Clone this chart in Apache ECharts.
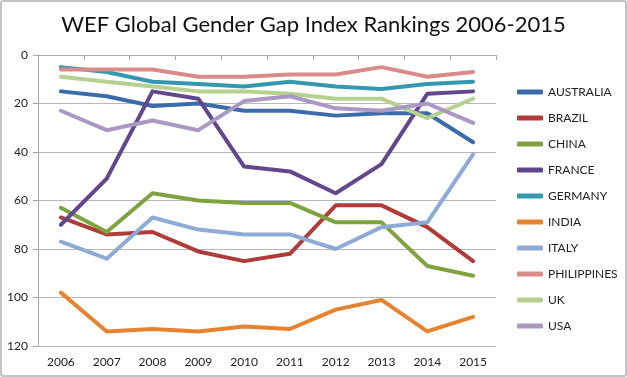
<!DOCTYPE html>
<html>
<head>
<meta charset="utf-8">
<script src="https://cdn.jsdelivr.net/npm/echarts@6/dist/echarts.min.js"></script>
<style>
  html, body { margin: 0; padding: 0; background: #fff; }
  #chart {
    width: 627px; height: 377px;
    box-sizing: border-box;
    border: 2px solid #c4c4c4;
    border-radius: 3px;
  }
</style>
</head>
<body>
<div id="chart"></div>
<script>
// rankings (lower = better)
var years = ['2006', '2007', '2008', '2009', '2010', '2011', '2012', '2013', '2014', '2015']
var australia = [15, 17, 21, 20, 23, 23, 25, 24, 24, 36]
var brazil = [67, 74, 73, 81, 85, 82, 62, 62, 71, 85]
var china = [63, 73, 57, 60, 61, 61, 69, 69, 87, 91]
var france = [70, 51, 15, 18, 46, 48, 57, 45, 16, 15]
var germany = [5, 7, 11, 12, 13, 11, 13, 14, 12, 11]
var india = [98, 114, 113, 114, 112, 113, 105, 101, 114, 108]
var italy = [77, 84, 67, 72, 74, 74, 80, 71, 69, 41]
var philippines = [6, 6, 6, 9, 9, 8, 8, 5, 9, 7]
var uk = [9, 11, 13, 15, 15, 16, 18, 18, 26, 18]
var usa = [23, 31, 27, 31, 19, 17, 22, 23, 20, 28]

var countries = [
  { name: 'AUSTRALIA', data: australia, color: '#3b6ca9' },
  { name: 'BRAZIL', data: brazil, color: '#b03b38' },
  { name: 'CHINA', data: china, color: '#7fa33e' },
  { name: 'FRANCE', data: france, color: '#61488c' },
  { name: 'GERMANY', data: germany, color: '#3498b0' },
  { name: 'INDIA', data: india, color: '#e5832f' },
  { name: 'ITALY', data: italy, color: '#8eabd6' },
  { name: 'PHILIPPINES', data: philippines, color: '#d98b89' },
  { name: 'UK', data: uk, color: '#b6d090' },
  { name: 'USA', data: usa, color: '#a898c3' }
]

var chart = echarts.init(document.getElementById('chart'))
chart.setOption({
  animation: false,
  title: {
    text: 'WEF Global Gender Gap Index Rankings 2006-2015',
    left: 'center',
    top: 7,
    textStyle: {
      fontFamily: 'Lato',
      fontSize: 22,
      fontWeight: 'normal',
      color: '#111'
    }
  },
  legend: {
    orient: 'vertical',
    left: 510,
    top: 79,
    itemWidth: 26,
    itemHeight: 5,
    itemGap: 14,
    icon: 'roundRect',
    textStyle: { fontFamily: 'Lato', fontSize: 12, color: '#222' },
    data: countries.map(function (c) { return c.name })
  },
  grid: { left: 36, right: 129, top: 53, bottom: 29 },
  xAxis: {
    type: 'category',
    data: years,
    boundaryGap: true,
    axisLine: { lineStyle: { color: '#a8a8a8' } },
    axisTick: { show: true, length: 5, lineStyle: { color: '#a8a8a8' } },
    axisLabel: { fontFamily: 'Lato', fontSize: 12, color: '#222', margin: 10 }
  },
  yAxis: {
    type: 'value',
    inverse: true,
    min: 0,
    max: 120,
    interval: 20,
    axisLine: { show: true, lineStyle: { color: '#a8a8a8' } },
    axisTick: { show: true, length: 5, lineStyle: { color: '#a8a8a8' } },
    axisLabel: { fontFamily: 'Lato', fontSize: 12, color: '#222', margin: 10 },
    splitLine: { lineStyle: { color: '#b8b8b8' } }
  },
  series: countries.map(function (c) {
    return {
      name: c.name,
      type: 'line',
      data: c.data,
      symbol: 'none',
      color: c.color,
      lineStyle: { width: 4, color: c.color, cap: 'round', join: 'round' }
    }
  })
})
</script>
</body>
</html>
